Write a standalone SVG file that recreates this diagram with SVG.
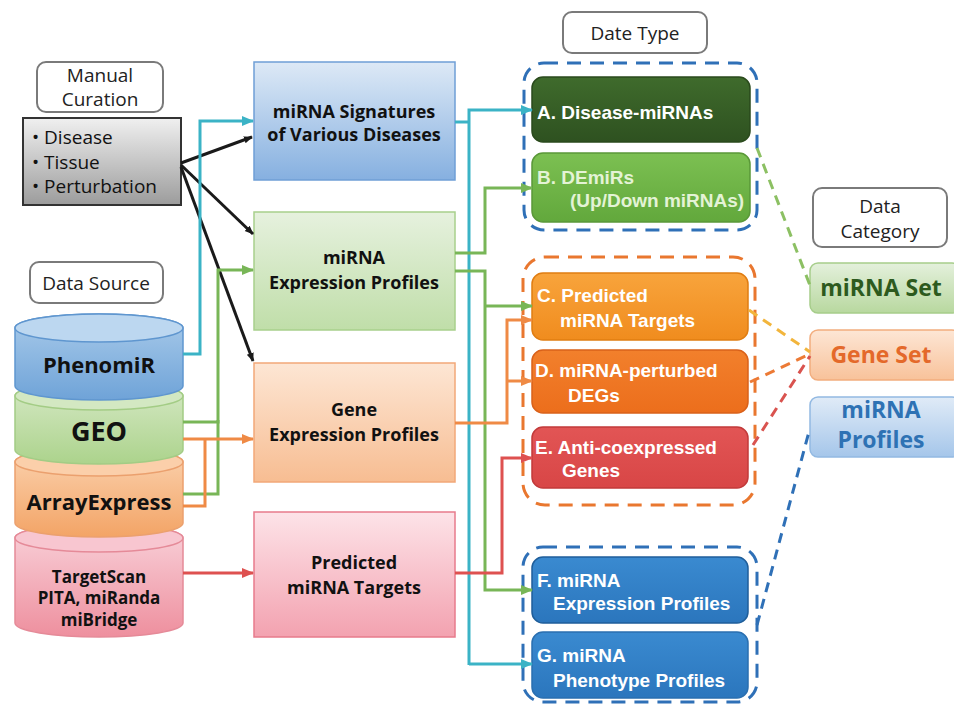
<svg xmlns="http://www.w3.org/2000/svg" width="954" height="707" viewBox="0 0 954 707">
<style>
.lbl{fill:#fff;stroke:#7a7a7a;stroke-width:2}
.lt{font-family:"Open Sans","Noto Sans",sans-serif;font-size:19px;fill:#222;text-anchor:middle}
.ct{font-family:"Open Sans","Noto Sans",sans-serif;font-weight:bold;fill:#111;text-anchor:middle}
.mt{font-family:"Open Sans","Noto Sans",sans-serif;font-weight:bold;font-size:18px;fill:#111;text-anchor:middle}
.dt{font-family:"Liberation Sans",Arial,sans-serif;font-weight:bold;font-size:19px;fill:#fff}
.cat{font-family:"Open Sans","Noto Sans",sans-serif;font-weight:bold;font-size:23px;text-anchor:middle}
.ln{fill:none;stroke-width:3}
.dash{fill:none;stroke-width:3;stroke-dasharray:14 9}
.cd{fill:none;stroke-width:3;stroke-dasharray:10 7}
</style>
<defs>
<linearGradient id="gGray" x1="0" y1="0" x2="0" y2="1"><stop offset="0" stop-color="#f0f0f0"/><stop offset="1" stop-color="#9c9c9c"/></linearGradient>
<linearGradient id="gBlueC" x1="0" y1="0" x2="0" y2="1"><stop offset="0" stop-color="#a9cbea"/><stop offset="1" stop-color="#6fa3d8"/></linearGradient>
<linearGradient id="gGreenC" x1="0" y1="0" x2="0" y2="1"><stop offset="0" stop-color="#d6e9c6"/><stop offset="1" stop-color="#acd38c"/></linearGradient>
<linearGradient id="gOrangeC" x1="0" y1="0" x2="0" y2="1"><stop offset="0" stop-color="#fbd3b0"/><stop offset="1" stop-color="#f3a466"/></linearGradient>
<linearGradient id="gPinkC" x1="0" y1="0" x2="0" y2="1"><stop offset="0" stop-color="#f9d3db"/><stop offset="1" stop-color="#ee8f9e"/></linearGradient>
<linearGradient id="gBlueB" x1="0" y1="0" x2="0" y2="1"><stop offset="0" stop-color="#dde9f6"/><stop offset="1" stop-color="#86b0e0"/></linearGradient>
<linearGradient id="gGreenB" x1="0" y1="0" x2="0" y2="1"><stop offset="0" stop-color="#e6f1de"/><stop offset="1" stop-color="#c0dea9"/></linearGradient>
<linearGradient id="gOrangeB" x1="0" y1="0" x2="0" y2="1"><stop offset="0" stop-color="#fde6d4"/><stop offset="1" stop-color="#f7bd92"/></linearGradient>
<linearGradient id="gPinkB" x1="0" y1="0" x2="0" y2="1"><stop offset="0" stop-color="#fde3e8"/><stop offset="1" stop-color="#f3a2b0"/></linearGradient>
<linearGradient id="gA" x1="0" y1="0" x2="0" y2="1"><stop offset="0" stop-color="#3f6b2c"/><stop offset="1" stop-color="#2e5120"/></linearGradient>
<linearGradient id="gB" x1="0" y1="0" x2="0" y2="1"><stop offset="0" stop-color="#7cc052"/><stop offset="1" stop-color="#62a83c"/></linearGradient>
<linearGradient id="gC" x1="0" y1="0" x2="0" y2="1"><stop offset="0" stop-color="#f8a43c"/><stop offset="1" stop-color="#f08c1e"/></linearGradient>
<linearGradient id="gD" x1="0" y1="0" x2="0" y2="1"><stop offset="0" stop-color="#f2802c"/><stop offset="1" stop-color="#ec6e1c"/></linearGradient>
<linearGradient id="gE" x1="0" y1="0" x2="0" y2="1"><stop offset="0" stop-color="#e25555"/><stop offset="1" stop-color="#d84646"/></linearGradient>
<linearGradient id="gF" x1="0" y1="0" x2="0" y2="1"><stop offset="0" stop-color="#3a8ad0"/><stop offset="1" stop-color="#2b76bd"/></linearGradient>
<linearGradient id="gCatG" x1="0" y1="0" x2="0" y2="1"><stop offset="0" stop-color="#e4f0dc"/><stop offset="1" stop-color="#b8d89f"/></linearGradient>
<linearGradient id="gCatO" x1="0" y1="0" x2="0" y2="1"><stop offset="0" stop-color="#fde6d5"/><stop offset="1" stop-color="#f8c29a"/></linearGradient>
<linearGradient id="gCatB" x1="0" y1="0" x2="0" y2="1"><stop offset="0" stop-color="#e0ebf7"/><stop offset="1" stop-color="#a5c6ea"/></linearGradient>
<marker id="aCy" markerUnits="userSpaceOnUse" markerWidth="12" markerHeight="12" viewBox="0 0 12 12" refX="11" refY="6" orient="auto"><path d="M0,1 L12,6 L0,11 z" fill="#3bb3c6"/></marker>
<marker id="aGr" markerUnits="userSpaceOnUse" markerWidth="12" markerHeight="12" viewBox="0 0 12 12" refX="11" refY="6" orient="auto"><path d="M0,1 L12,6 L0,11 z" fill="#78b657"/></marker>
<marker id="aOr" markerUnits="userSpaceOnUse" markerWidth="12" markerHeight="12" viewBox="0 0 12 12" refX="11" refY="6" orient="auto"><path d="M0,1 L12,6 L0,11 z" fill="#ef8a45"/></marker>
<marker id="aRd" markerUnits="userSpaceOnUse" markerWidth="12" markerHeight="12" viewBox="0 0 12 12" refX="11" refY="6" orient="auto"><path d="M0,1 L12,6 L0,11 z" fill="#de5150"/></marker>
<marker id="aBk" markerUnits="userSpaceOnUse" markerWidth="9" markerHeight="9" viewBox="0 0 10 10" refX="9" refY="5" orient="auto"><path d="M0,1 L10,5 L0,9 z" fill="#1a1a1a"/></marker>
</defs>
<rect width="954" height="707" fill="#fff"/>

<!-- labels -->
<g id="manual-curation-label"><rect class="lbl" x="37" y="62" width="126" height="50" rx="9"/><text class="lt" x="100" y="82" font-size="18">Manual</text><text class="lt" x="100" y="106" font-size="18">Curation</text></g>
<g id="curation-box"><rect x="23" y="118" width="158" height="87" fill="url(#gGray)" stroke="#333" stroke-width="2"/>
<text font-family="'Open Sans','Noto Sans',sans-serif" font-size="19" fill="#111"><tspan x="32" y="144">• Disease</tspan><tspan x="32" y="169">• Tissue</tspan><tspan x="32" y="193">• Perturbation</tspan></text></g>
<g id="data-source-label"><rect class="lbl" x="30" y="262" width="133" height="41" rx="9"/><text class="lt" x="96" y="290">Data Source</text></g>

<!-- cylinders (bottom first) -->
<g id="targetscan"><path d="M15,538 V623 A84,14 0 0 0 183,623 V538 A84,14 0 0 0 15,538 Z" fill="url(#gPinkC)" stroke="#e58a98" stroke-width="1.5"/><ellipse cx="99" cy="538" rx="84" ry="14" fill="#f8c6d0" stroke="#e58a98" stroke-width="1.5"/>
<text class="ct" font-size="17"><tspan x="99" y="583">TargetScan</tspan><tspan x="99" y="604">PITA, miRanda</tspan><tspan x="99" y="626">miBridge</tspan></text></g>
<g id="arrayexpress"><path d="M15,462 V523 A84,14 0 0 0 183,523 V462 A84,14 0 0 0 15,462 Z" fill="url(#gOrangeC)" stroke="#eba06e" stroke-width="1.5"/><ellipse cx="99" cy="462" rx="84" ry="14" fill="#fbcfaa" stroke="#eba06e" stroke-width="1.5"/>
<text class="ct" font-size="22" x="99" y="510">ArrayExpress</text></g>
<g id="geo"><path d="M15,396 V450 A84,14 0 0 0 183,450 V396 A84,14 0 0 0 15,396 Z" fill="url(#gGreenC)" stroke="#a3cc85" stroke-width="1.5"/><ellipse cx="99" cy="396" rx="84" ry="14" fill="#d3e8c2" stroke="#a3cc85" stroke-width="1.5"/>
<text class="ct" font-size="27" x="99" y="441">GEO</text></g>
<g id="phenomir"><path d="M15,328 V386 A84,14 0 0 0 183,386 V328 A84,14 0 0 0 15,328 Z" fill="url(#gBlueC)" stroke="#5f96cf" stroke-width="1.5"/><ellipse cx="99" cy="328" rx="84" ry="14" fill="#bcd7f0" stroke="#5f96cf" stroke-width="1.5"/>
<text class="ct" font-size="22" x="99" y="373">PhenomiR</text></g>

<!-- middle boxes -->
<g id="mirna-signatures"><rect x="254" y="62" width="201" height="118" fill="url(#gBlueB)" stroke="#6f9fd6" stroke-width="1.5"/><text class="mt"><tspan x="354" y="118">miRNA Signatures</tspan><tspan x="354" y="141">of Various Diseases</tspan></text></g>
<g id="mirna-expression"><rect x="254" y="212" width="201" height="118" fill="url(#gGreenB)" stroke="#a8d08c" stroke-width="1.5"/><text class="mt"><tspan x="354" y="264">miRNA</tspan><tspan x="354" y="289">Expression Profiles</tspan></text></g>
<g id="gene-expression"><rect x="254" y="363" width="201" height="119" fill="url(#gOrangeB)" stroke="#f2a878" stroke-width="1.5"/><text class="mt"><tspan x="354" y="416">Gene</tspan><tspan x="354" y="441">Expression Profiles</tspan></text></g>
<g id="predicted-targets"><rect x="254" y="512" width="201" height="125" fill="url(#gPinkB)" stroke="#e77b8c" stroke-width="1.5"/><text class="mt" font-size="20"><tspan x="354" y="569">Predicted</tspan><tspan x="354" y="594">miRNA Targets</tspan></text></g>

<!-- date type -->
<g id="date-type-label"><rect class="lbl" x="563" y="12" width="144" height="41" rx="9"/><text class="lt" x="635" y="40">Date Type</text></g>
<g id="group-ab"><rect class="dash" x="524" y="63" width="233" height="167" rx="20" stroke="#2f70b7"/></g>
<g id="type-a"><rect x="532" y="77" width="218" height="65" rx="11" fill="url(#gA)" stroke="#2a4a1c" stroke-width="1.5"/><text class="dt" x="537" y="119">A. Disease-miRNAs</text></g>
<g id="type-b"><rect x="532" y="153" width="218" height="69" rx="11" fill="url(#gB)" stroke="#5a9838" stroke-width="1.5"/><text class="dt" style="fill:#e4f3d6"><tspan x="537" y="184">B. DEmiRs</tspan><tspan x="570" y="207">(Up/Down miRNAs)</tspan></text></g>

<g id="group-cde"><rect class="dash" x="523" y="257" width="232" height="248" rx="22" stroke="#e9772f"/></g>
<g id="type-c"><rect x="532" y="273" width="216" height="67" rx="11" fill="url(#gC)" stroke="#e07d12" stroke-width="1.5"/><text class="dt"><tspan x="537" y="302">C. Predicted</tspan><tspan x="560" y="327">miRNA Targets</tspan></text></g>
<g id="type-d"><rect x="532" y="350" width="216" height="63" rx="11" fill="url(#gD)" stroke="#d9611a" stroke-width="1.5"/><text class="dt"><tspan x="535" y="377">D. miRNA-perturbed</tspan><tspan x="568" y="402">DEGs</tspan></text></g>
<g id="type-e"><rect x="532" y="427" width="216" height="61" rx="11" fill="url(#gE)" stroke="#c23a3a" stroke-width="1.5"/><text class="dt"><tspan x="535" y="454">E. Anti-coexpressed</tspan><tspan x="562" y="477">Genes</tspan></text></g>

<g id="group-fg"><rect class="dash" x="523" y="547" width="234" height="155" rx="20" stroke="#2f70b7"/></g>
<g id="type-f"><rect x="532" y="557" width="216" height="66" rx="11" fill="url(#gF)" stroke="#1f5e9a" stroke-width="1.5"/><text class="dt"><tspan x="537" y="587">F. miRNA</tspan><tspan x="553" y="610">Expression Profiles</tspan></text></g>
<g id="type-g"><rect x="532" y="632" width="216" height="66" rx="11" fill="url(#gF)" stroke="#2a6fb0" stroke-width="1.5"/><text class="dt"><tspan x="537" y="662">G. miRNA</tspan><tspan x="553" y="687">Phenotype Profiles</tspan></text></g>

<!-- data category -->
<g id="data-category-label"><rect class="lbl" x="813" y="188" width="134" height="59" rx="9"/><text class="lt" x="880" y="213" font-size="18">Data</text><text class="lt" x="880" y="238" font-size="18">Category</text></g>
<g id="cat-mirna-set"><rect x="810" y="263" width="150" height="50" rx="8" fill="url(#gCatG)" stroke="#a6cd8a" stroke-width="1.5"/><text class="cat" x="881" y="296" fill="#2d5a1e">miRNA Set</text></g>
<g id="cat-gene-set"><rect x="810" y="330" width="150" height="50" rx="8" fill="url(#gCatO)" stroke="#f2ad7e" stroke-width="1.5"/><text class="cat" x="881" y="363" fill="#e4692a">Gene Set</text></g>
<g id="cat-mirna-profiles"><rect x="810" y="397" width="150" height="60" rx="8" fill="url(#gCatB)" stroke="#92b9e2" stroke-width="1.5"/><text class="cat" fill="#2e72b4" font-size="20" x="881" y="418">miRNA</text><text class="cat" fill="#2e72b4" font-size="20" x="881" y="448">Profiles</text></g>

<!-- connectors -->
<g id="connectors">
<path class="ln" stroke="#1a1a1a" stroke-width="1.5" d="M181,163 L252,137" marker-end="url(#aBk)"/>
<path class="ln" stroke="#1a1a1a" stroke-width="1.5" d="M181,165 L253,234" marker-end="url(#aBk)"/>
<path class="ln" stroke="#1a1a1a" stroke-width="1.5" d="M181,167 L253,361" marker-end="url(#aBk)"/>

<path class="ln" stroke="#3bb3c6" d="M183,354 H200 V121 H253" marker-end="url(#aCy)"/>
<path class="ln" stroke="#78b657" d="M183,422 H218 V270 H253" marker-end="url(#aGr)"/>
<path class="ln" stroke="#78b657" d="M183,494 H218 V420"/>
<path class="ln" stroke="#ef8a45" d="M183,439 H253" marker-end="url(#aOr)"/>
<path class="ln" stroke="#ef8a45" d="M183,506 H205 V439"/>
<path class="ln" stroke="#de5150" d="M183,573 H253" marker-end="url(#aRd)"/>

<path class="ln" stroke="#3bb3c6" d="M455,122 H469"/>
<path class="ln" stroke="#3bb3c6" d="M469,665 V110 H532" marker-end="url(#aCy)"/>
<path class="ln" stroke="#3bb3c6" d="M469,664 H532" marker-end="url(#aCy)"/>

<path class="ln" stroke="#78b657" d="M455,253 H485 V188 H532" marker-end="url(#aGr)"/>
<path class="ln" stroke="#78b657" d="M455,271 H485 V590 H532" marker-end="url(#aGr)"/>
<path class="ln" stroke="#78b657" d="M485,306 H532" marker-end="url(#aGr)"/>

<path class="ln" stroke="#ef8a45" d="M455,423 H507 V320 H532" marker-end="url(#aOr)"/>
<path class="ln" stroke="#ef8a45" d="M507,381 H532" marker-end="url(#aOr)"/>

<path class="ln" stroke="#de5150" d="M455,573 H502 V458 H532" marker-end="url(#aRd)"/>

<path class="cd" stroke="#8cc063" d="M757,148 L811,288"/>
<path class="cd" stroke="#f2b53c" d="M749,310 L810,352"/>
<path class="cd" stroke="#ec7a35" d="M750,382 L810,354"/>
<path class="cd" stroke="#d9534f" d="M753,445 L810,356"/>
<path class="cd" stroke="#2f70b7" d="M757,625 L810,428"/>
</g>
</svg>
